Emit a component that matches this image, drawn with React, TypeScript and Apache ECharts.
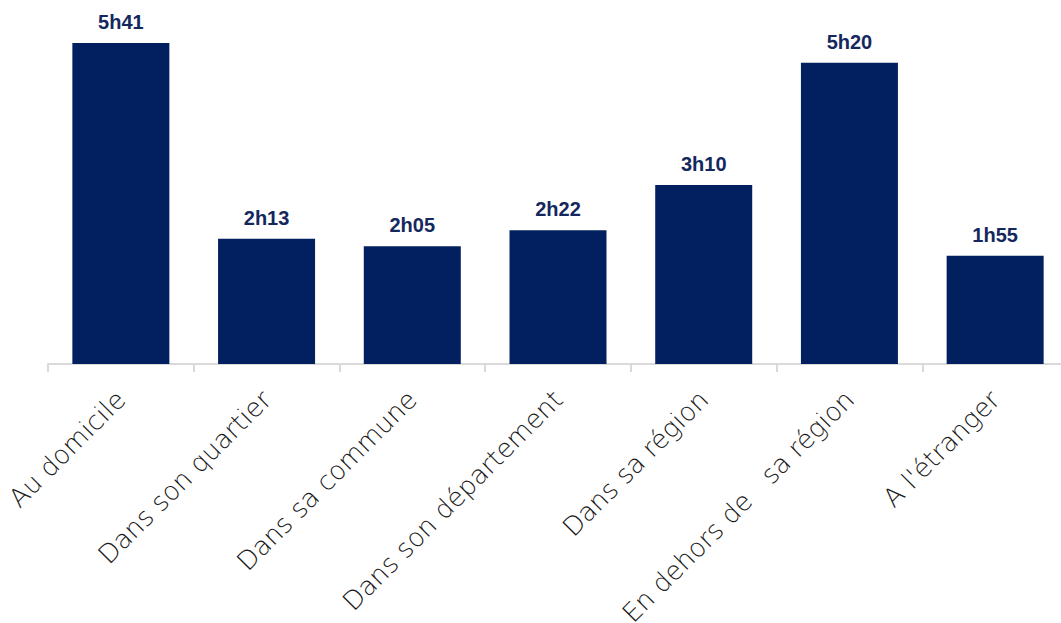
import React, { useEffect, useRef } from "react";
import * as echarts from "echarts";

const categories = [
  "Au domicile",
  "Dans son quartier",
  "Dans sa commune",
  "Dans son département",
  "Dans sa région",
  "En dehors de \u00a0\u00a0sa région",
  "A l'étranger",
];
// durations in minutes (5h41, 2h13, 2h05, 2h22, 3h10, 5h20, 1h55)
const minutes = [341, 133, 125, 142, 190, 320, 115];

const fmt = (m: number) => {
  const h = Math.floor(m / 60);
  const mm = m % 60;
  return `${h}h${mm < 10 ? "0" + mm : mm}`;
};

export default function App() {
  const ref = useRef<HTMLDivElement>(null);
  useEffect(() => {
    if (!ref.current) return;
    const chart = echarts.init(ref.current, null, { renderer: "svg" });
    chart.setOption({
      animation: false,
      grid: { left: 48, right: 0, top: 25, bottom: 259, containLabel: false, outerBoundsMode: "none" },
      xAxis: {
        type: "category",
        data: categories,
        axisLine: { lineStyle: { color: "#d9d9d9", width: 2 } },
        axisTick: { show: true, length: 8, lineStyle: { color: "#d9d9d9", width: 2 } },
        axisLabel: {
          rotate: 45,
          interval: 0,
          margin: 31,
          fontFamily: "DejaVu Sans",
          fontWeight: 200,
          fontSize: 26,
          color: "#1a1a1a",
        },
      },
      yAxis: {
        type: "value",
        min: 0,
        max: 360,
        show: false,
        splitLine: { show: false },
      },
      series: [
        {
          type: "bar",
          data: minutes,
          barWidth: 97,
          itemStyle: { color: "#02205F" },
          label: {
            show: true,
            position: "top",
            distance: 11,
            formatter: (p: any) => fmt(p.value),
            fontFamily: "Liberation Sans",
            fontWeight: "bold",
            fontSize: 20,
            color: "#14285E",
          },
        },
      ],
    });
    return () => chart.dispose();
  }, []);
  return (
    <div style={{ position: "fixed", left: 0, top: 0, width: 1061, height: 623, overflow: "hidden", background: "#fff" }}>
      <div ref={ref} style={{ width: 1068, height: 623 }} />
    </div>
  );
}
